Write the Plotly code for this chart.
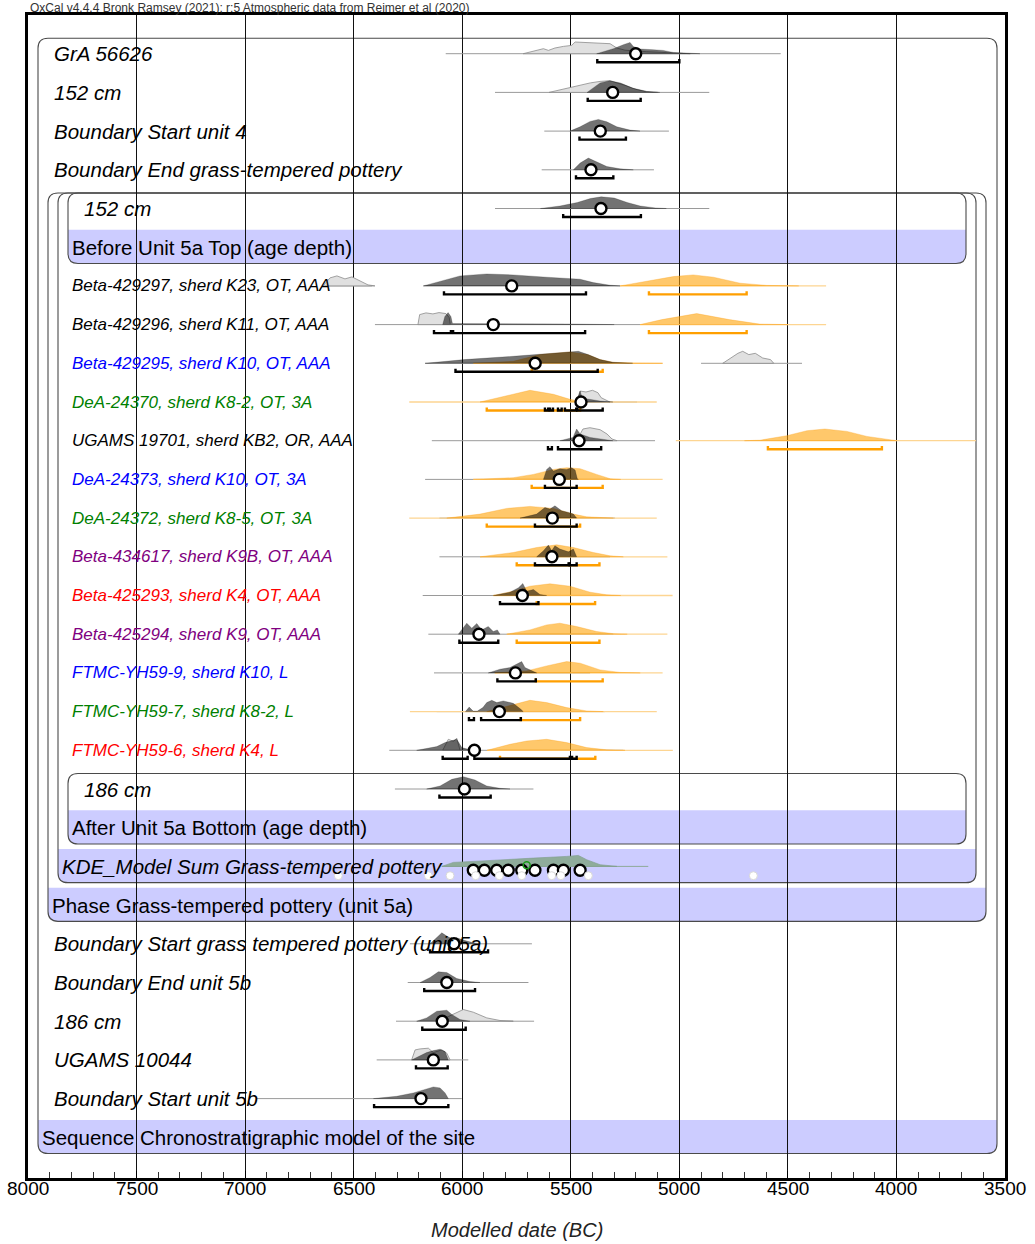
import plotly.graph_objects as go

# ---------------------------------------------------------------- data
labels = [
    "GrA 56626", "152 cm", "Boundary Start unit 4", "Boundary End grass-tempered pottery",
    "152 cm", "Before Unit 5a Top (age depth)",
    "Beta-429297, sherd K23, OT, AAA", "Beta-429296, sherd K11, OT, AAA",
    "Beta-429295, sherd K10, OT, AAA", "DeA-24370, sherd K8-2, OT, 3A",
    "UGAMS 19701, sherd KB2, OR, AAA", "DeA-24373, sherd K10, OT, 3A",
    "DeA-24372, sherd K8-5, OT, 3A", "Beta-434617, sherd K9B, OT, AAA",
    "Beta-425293, sherd K4, OT, AAA", "Beta-425294, sherd K9, OT, AAA",
    "FTMC-YH59-9, sherd K10, L", "FTMC-YH59-7, sherd K8-2, L", "FTMC-YH59-6, sherd K4, L",
    "186 cm", "After Unit 5a Bottom (age depth)", "KDE_Model Sum Grass-tempered pottery",
    "Phase Grass-tempered pottery (unit 5a)", "Boundary Start grass tempered pottery (unit 5a)",
    "Boundary End unit 5b", "186 cm", "UGAMS 10044", "Boundary Start unit 5b",
    "Sequence Chronostratigraphic model of the site",
]
label_colors = ["black"] * 8 + ["blue", "green", "black", "blue", "green", "purple", "red",
                                "purple", "blue", "green", "red"] + ["black"] * 10

x_ticks = [8000, 7500, 7000, 6500, 6000, 5500, 5000, 4500, 4000, 3500]

# thin calibration baselines (from, to) in BC
gray_ranges = {
    1: [(6076, 4533)], 2: [(5849, 4862)], 3: [(5622, 5048)], 4: [(5634, 5117)],
    5: [(5849, 4862)], 7: [(6641, 6415), (6179, 5273)], 8: [(6402, 5181)],
    9: [(6171, 5215), (4900, 4435)], 10: [(5473, 5195)], 11: [(6140, 5112)],
    12: [(6171, 5319)], 13: [(6105, 5296)], 14: [(6105, 5319)], 15: [(6182, 5319)],
    16: [(6156, 5304)], 17: [(6130, 5411)], 18: [(6118, 5342)], 19: [(6336, 5258)],
    20: [(6310, 5672)], 24: [(6241, 5679)], 25: [(6251, 5695)], 26: [(6305, 5669)],
    27: [(6394, 5972)], 28: [(6947, 6002)],
}
orange_ranges = {
    7: [(5273, 4324)], 8: [(5181, 4324)], 9: [(5949, 5077)], 10: [(6244, 5104)],
    11: [(5016, 3634)], 12: [(5949, 5077)], 13: [(6244, 5104)], 14: [(5918, 5055)],
    15: [(5857, 5031)], 16: [(5795, 5055)], 17: [(5850, 5077)], 18: [(6241, 5104)],
    19: [(5886, 5030)],
}

# distributions: (year BC, relative height)
light_dists = {
    1: [(5719, 0), (5626, 5), (5603, 3.3), (5573, 5.7), (5534, 7.3), (5496, 8.3), (5480, 11.7),
        (5365, 10.7), (5319, 10), (5288, 5.7), (5250, 3.5), (5150, 2), (5050, 1), (4950, 0)],
    2: [(5600, 0), (5530, 3.5), (5470, 6.7), (5410, 9.5), (5365, 11), (5320, 11.7), (5250, 7),
        (5200, 3), (5150, 0.8), (5100, 0)],
    7: [(6641, 0), (6609, 8), (6577, 10), (6540, 7), (6508, 9), (6471, 5), (6434, 1), (6402, 0)],
    8: [(6204, 0), (6196, 10), (6167, 11.7), (6135, 10.7), (6107, 12), (6075, 11), (6060, 7),
        (6055, 0)],
    9: [(4800, 0), (4730, 10), (4708, 12), (4680, 8.7), (4650, 10), (4616, 5.3), (4580, 3.7),
        (4565, 0)],
    10: [(5473, 0), (5457, 11), (5430, 10), (5400, 11.7), (5375, 9.3), (5360, 4.3), (5320, 0)],
    11: [(5473, 0), (5444, 11.7), (5412, 13), (5365, 11), (5333, 6.7), (5310, 1.7), (5287, 0)],
    19: [(6090, 0), (6064, 11), (6041, 9), (6025, 12), (6010, 0)],
    26: [(6110, 0), (6041, 6.7), (5995, 11.7), (5949, 9), (5887, 3.3), (5826, 0.7), (5765, 0)],
    27: [(6233, 0), (6217, 10), (6194, 11), (6156, 11.7), (6133, 7.3), (6094, 10), (6071, 6.7),
         (6056, 0)],
}
dark_dists = {
    1: [(5381, 0), (5304, 5), (5258, 9), (5227, 11.3), (5212, 7.3), (5181, 4.7), (5120, 4),
        (5074, 3.3), (5028, 1.3), (4966, 0.5), (4905, 0)],
    2: [(5425, 0), (5395, 5), (5365, 9.5), (5320, 11.7), (5270, 9.3), (5215, 4.3), (5150, 1),
        (5090, 0)],
    3: [(5504, 0), (5457, 4.3), (5411, 9.7), (5373, 11.7), (5334, 9.3), (5288, 4.3), (5227, 1),
        (5181, 0)],
    4: [(5488, 0), (5457, 6.7), (5419, 11.7), (5381, 8.3), (5334, 3.3), (5273, 1), (5212, 0)],
    5: [(5640, 0), (5550, 2.5), (5470, 6), (5410, 10), (5360, 11.7), (5300, 10.5), (5240, 6),
        (5180, 2.5), (5110, 0.6), (5060, 0)],
    7: [(6179, 0), (6102, 4.3), (6010, 10), (5887, 12), (5765, 11), (5611, 8.7), (5457, 6.7),
        (5396, 3.3), (5319, 0.7), (5273, 0)],
    8: [(6090, 0), (6080, 8), (6065, 12), (6052, 8), (6045, 1), (5800, 1), (5500, 0.6), (5300, 0)],
    9: [(6171, 0), (5990, 3.7), (5765, 7), (5580, 9.7), (5465, 12), (5420, 8.7), (5365, 3.7),
        (5306, 1), (5215, 0)],
    10: [(5473, 0), (5457, 11), (5450, 6), (5430, 3.3), (5365, 1), (5306, 0)],
    11: [(5550, 0), (5490, 3.3), (5473, 11.7), (5457, 6.7), (5411, 3.3), (5365, 1.7), (5306, 0)],
    12: [(5626, 0), (5611, 10), (5596, 12.7), (5580, 8.3), (5550, 10.7), (5519, 10), (5496, 11.7),
         (5480, 9.3), (5470, 0.7), (5465, 0)],
    13: [(5734, 0), (5657, 4), (5619, 10.7), (5596, 9), (5573, 12.3), (5542, 7.3), (5511, 5.7),
         (5488, 4), (5473, 0)],
    14: [(5657, 0), (5626, 6), (5603, 11.7), (5588, 6), (5573, 11), (5550, 7.7), (5511, 5),
         (5488, 7.7), (5473, 0)],
    15: [(5857, 0), (5780, 3.3), (5741, 7.7), (5721, 12), (5703, 4.3), (5672, 6), (5642, 1),
         (5611, 0)],
    16: [(6018, 0), (5979, 11), (5956, 6), (5933, 10.7), (5910, 4.3), (5880, 7.7), (5857, 2.7),
         (5838, 4.3), (5826, 0)],
    17: [(5880, 0), (5826, 3.7), (5780, 5.3), (5749, 8.7), (5726, 11.3), (5711, 5.3), (5672, 2),
         (5657, 0)],
    18: [(5985, 0), (5968, 4.5), (5950, 0.5), (5930, 0.5), (5905, 4), (5887, 9), (5864, 11.3),
         (5841, 9), (5811, 10.7), (5765, 8.3), (5730, 2.3), (5719, 0)],
    19: [(6210, 0), (6164, 1.7), (6117, 3.7), (6079, 7.7), (6048, 9.3), (6025, 11), (6002, 2.7),
         (5964, 0.5), (5940, 0)],
    20: [(6164, 0), (6102, 3), (6048, 9.7), (5995, 12.3), (5941, 9), (5887, 3), (5826, 0.7),
         (5780, 0)],
    24: [(6148, 0), (6117, 6), (6094, 11), (6071, 7.7), (6048, 5), (6025, 6), (5995, 3.7),
         (5949, 1), (5918, 0)],
    25: [(6194, 0), (6148, 5), (6110, 10.7), (6071, 10), (6025, 4), (5964, 1), (5918, 0)],
    26: [(6210, 0), (6164, 3.3), (6117, 10), (6071, 11), (6048, 6.7), (6010, 1.7), (5964, 0)],
    27: [(6233, 0), (6164, 7.3), (6133, 9.3), (6102, 10.7), (6079, 8.3), (6064, 0)],
    28: [(6409, 0), (6302, 2.3), (6225, 5.7), (6164, 9.7), (6133, 11.7), (6102, 10.7),
         (6079, 5.7), (6064, 0)],
}
orange_dists = {
    7: [(5273, 0), (5150, 4.3), (5028, 9.3), (4936, 11), (4843, 8.7), (4720, 2.7), (4597, 0.5),
        (4450, 0)],
    8: [(5181, 0), (5080, 5), (4920, 11), (4770, 5), (4630, 0.5), (4500, 0)],
    9: [(5949, 0), (5765, 2), (5642, 8.7), (5504, 11.3), (5420, 8.5), (5365, 3.7), (5306, 1),
        (5215, 0.3), (5077, 0)],
    10: [(5918, 0), (5795, 6), (5688, 11.7), (5580, 7.7), (5504, 2.7), (5457, 0.7), (5420, 0)],
    11: [(4700, 0), (4629, 0.5), (4505, 5), (4412, 10), (4330, 11.7), (4228, 9.3), (4136, 4.3),
         (4044, 1), (3998, 0)],
    12: [(5949, 0), (5765, 1.7), (5672, 5), (5580, 10), (5519, 11.7), (5457, 10.7), (5381, 5),
         (5319, 0.7), (5270, 0)],
    13: [(6071, 0), (5918, 4), (5795, 9.7), (5688, 11.7), (5580, 9.7), (5488, 4), (5427, 1.3),
         (5304, 0)],
    14: [(5918, 0), (5765, 4.3), (5657, 9.3), (5565, 12), (5488, 9.3), (5396, 4.3), (5319, 1),
         (5258, 0)],
    15: [(5857, 0), (5765, 4.3), (5688, 9.3), (5596, 11.7), (5504, 9.3), (5411, 3.3),
         (5334, 0.7), (5270, 0)],
    16: [(5795, 0), (5688, 4.3), (5611, 9.3), (5550, 11), (5473, 7.7), (5381, 2.7), (5304, 0.5),
         (5240, 0)],
    17: [(5850, 0), (5703, 2), (5611, 7), (5519, 11.3), (5457, 9.7), (5365, 3), (5273, 0.5),
         (5180, 0)],
    18: [(5887, 0), (5765, 7.3), (5688, 11.3), (5611, 9), (5519, 4), (5427, 0.7), (5350, 0)],
    19: [(5886, 0), (5780, 6), (5703, 9.3), (5611, 11), (5519, 7.7), (5427, 2.7), (5334, 0.5),
         (5250, 0)],
}
kde_sum = [(6094, 0), (6041, 4), (5949, 5), (5826, 6.7), (5672, 8.3), (5519, 10), (5465, 11),
           (5427, 6.7), (5365, 1.7), (5288, 0)]
kde_range = (6094, 5143)
kde_green_median = 5703
kde_medians = [5949, 5898, 5841, 5788, 5726, 5665, 5580, 5534, 5457]
kde_unmodelled = [6571, 6156, 6056, 5938, 5829, 5726, 5588, 5546, 5419, 4659]

medians = {1: 5201, 2: 5307, 3: 5364, 4: 5407, 5: 5361, 7: 5772, 8: 5857, 9: 5664, 10: 5453,
           11: 5462, 12: 5553, 13: 5585, 14: 5587, 15: 5723, 16: 5923, 17: 5755, 18: 5829,
           19: 5944, 20: 5990, 24: 6038, 25: 6071, 26: 6092, 27: 6133, 28: 6190}
hpd_black = {
    1: [(5378, 5000)], 2: [(5422, 5178)], 3: [(5460, 5246)], 4: [(5476, 5304)], 5: [(5535, 5177)],
    7: [(6084, 5430)], 8: [(6130, 6052), (6042, 5434)], 9: [(6031, 5376)],
    10: [(5619, 5604), (5596, 5582), (5559, 5542), (5527, 5475), (5470, 5353)],
    11: [(5605, 5587), (5559, 5360)], 12: [(5619, 5473)], 13: [(5665, 5473)],
    14: [(5665, 5510), (5505, 5473)], 15: [(5826, 5649)], 16: [(6013, 5834)], 17: [(5838, 5661)],
    18: [(5969, 5946), (5913, 5730)], 19: [(6090, 5975), (5944, 5504), (5494, 5473)],
    20: [(6105, 5869)], 24: [(6148, 5881)], 25: [(6175, 5941)], 26: [(6184, 5984)],
    27: [(6213, 6067)], 28: [(6406, 6064)],
}
hpd_orange = {
    7: [(5140, 4690)], 8: [(5140, 4690)], 9: [(5680, 5353)], 10: [(5887, 5457)],
    11: [(4592, 4067)], 12: [(5680, 5353)], 13: [(5887, 5457)], 14: [(5749, 5368)],
    15: [(5657, 5388)], 16: [(5749, 5368)], 17: [(5661, 5353)], 18: [(5730, 5457)],
    19: [(5826, 5387)],
}

# ---------------------------------------------------------------- layout helpers
W, H = 1035, 1244
PL, PR, PT, PB = 28, 1005, 15, 1178          # plot area on screen
ML, MT, MR, MB = PL, PT, W - PR, H - PB
PW, PH = PR - PL, PB - PT
ROW_PX = 38.7
N_ROWS = PH / ROW_PX
HS = 1.0 / ROW_PX          # height unit -> rows
BR_OFF = 0.22              # bracket offset below baseline (rows)
BR_TICK = 0.08


def px(xpix):
    return (xpix - PL) / PW


def py(ypix):
    return 1 - (ypix - PT) / PH


fig = go.Figure()


def seg_trace(ranges_by_row, color, width, offset=0.0, ticks=False):
    xs, ys = [], []
    for row, segs in ranges_by_row.items():
        y = row + offset
        for a, b in segs:
            if ticks:
                xs += [a, a, b, b, None]
                ys += [y - BR_TICK, y, y, y - BR_TICK, None]
            else:
                xs += [a, b, None]
                ys += [y, y, None]
    fig.add_trace(go.Scatter(x=xs, y=ys, mode="lines", line=dict(color=color, width=width),
                             hoverinfo="skip", showlegend=False))


def dist_trace(dists, fill, line, lw):
    xs, ys = [], []
    for row, pts in dists.items():
        xs += [p[0] for p in pts] + [pts[0][0], None]
        ys += [row - p[1] * HS for p in pts] + [row, None]
    fig.add_trace(go.Scatter(x=xs, y=ys, mode="lines", fill="toself", fillcolor=fill,
                             line=dict(color=line, width=lw), hoverinfo="skip",
                             showlegend=False))


seg_trace(gray_ranges, "#9a9a9a", 1)
seg_trace(orange_ranges, "#fdd592", 1.3)
dist_trace(orange_dists, "rgba(255,160,0,0.58)", "rgba(250,155,10,0.5)", 0.6)
dist_trace(light_dists, "#e0e0e0", "#8c8c8c", 0.8)
dist_trace(dark_dists, "rgba(0,0,0,0.55)", "rgba(0,0,0,0.4)", 0.5)

# KDE row
fig.add_trace(go.Scatter(x=[kde_range[0], kde_range[1]], y=[22, 22], mode="lines",
                         line=dict(color="#8fa99a", width=1), hoverinfo="skip", showlegend=False))
dist_trace({22: kde_sum}, "#8fac9b", "#7d9c8a", 0.6)

seg_trace(hpd_orange, "#ff9f00", 2.4, BR_OFF, True)
seg_trace(hpd_black, "black", 2.4, BR_OFF, True)

fig.add_trace(go.Scatter(x=kde_medians, y=[22.1] * len(kde_medians), mode="markers",
                         marker=dict(size=11, color="white", line=dict(color="black", width=2.3)),
                         hoverinfo="skip", showlegend=False))
fig.add_trace(go.Scatter(x=kde_unmodelled, y=[22.24] * len(kde_unmodelled), mode="markers",
                         marker=dict(size=8, color="white", line=dict(color="#d8d8d8", width=1)),
                         hoverinfo="skip", showlegend=False))
fig.add_trace(go.Scatter(x=[kde_green_median], y=[21.97], mode="markers",
                         marker=dict(size=7, color="rgba(0,0,0,0)",
                                     line=dict(color="#1a9a1a", width=1.5)),
                         hoverinfo="skip", showlegend=False))

fig.add_trace(go.Scatter(x=list(medians.values()), y=list(medians.keys()), mode="markers",
                         marker=dict(size=11, color="white", line=dict(color="black", width=2.4)),
                         hoverinfo="skip", showlegend=False))

# ---------------------------------------------------------------- boxes & bands
R = 10
rx, ry = R / PW, R / ROW_PX
LAV = "rgb(204,204,255)"
boxes = [  # left px, right px, top row, band row
    (38, 997, 0.6, 29),
    (48, 986, 4.6, 23),
    (58, 976, 4.6, 22),
    (68, 966, 4.6, 6),
    (68, 966, 19.6, 21),
]
shapes = []
for xl, xr, top, band in boxes:
    x0, x1 = px(xl), px(xr)
    b0, b1 = band - 0.45, band + 0.42
    band_path = (f"M {x0},{b0} L {x1},{b0} L {x1},{b1-ry} Q {x1},{b1} {x1-rx},{b1} "
                 f"L {x0+rx},{b1} Q {x0},{b1} {x0},{b1-ry} Z")
    shapes.append(dict(type="path", path=band_path, xref="paper", yref="y", fillcolor=LAV,
                       line=dict(width=0), layer="below"))
    y0, y1 = top, b1
    box_path = (f"M {x0+rx},{y0} L {x1-rx},{y0} Q {x1},{y0} {x1},{y0+ry} L {x1},{y1-ry} "
                f"Q {x1},{y1} {x1-rx},{y1} L {x0+rx},{y1} Q {x0},{y1} {x0},{y1-ry} "
                f"L {x0},{y0+ry} Q {x0},{y0} {x0+rx},{y0} Z")
    shapes.append(dict(type="path", path=box_path, xref="paper", yref="y",
                       line=dict(color="#4a4a4a", width=1.1), layer="below"))

# ---------------------------------------------------------------- labels
FONT = "Liberation Sans, Arial, sans-serif"
label_x = {1: 55, 2: 55, 3: 55, 4: 55, 5: 85, 6: 73, 20: 85, 21: 73, 22: 63, 23: 53, 29: 43}
plain_rows = {6, 21, 23, 29}
annotations = []
for i, (txt, col) in enumerate(zip(labels, label_colors), start=1):
    xpix = label_x.get(i, 73 if 7 <= i <= 19 else 55) - 3
    size = 17 if 7 <= i <= 19 else 20.5
    t = txt if i in plain_rows else f"<i>{txt}</i>"
    annotations.append(dict(x=px(xpix), y=i, xref="paper", yref="y", text=t, showarrow=False,
                            xanchor="left", yanchor="middle",
                            font=dict(family=FONT, size=size, color=col)))

# tick labels placed just under the axis line
for v in x_ticks:
    annotations.append(dict(x=v, y=py(1188), xref="x", yref="paper", text=str(v),
                            showarrow=False, xanchor="center", yanchor="middle",
                            font=dict(family=FONT, size=19, color="black")))

annotations.append(dict(x=px(28), y=py(8), xref="paper", yref="paper",
                        text="OxCal v4.4.4 Bronk Ramsey (2021); r:5 Atmospheric data from Reimer et al (2020)",
                        showarrow=False, xanchor="left", yanchor="middle",
                        font=dict(family=FONT, size=12, color="#333333")))
annotations.append(dict(x=0.5, y=py(1230), xref="paper", yref="paper",
                        text="<i>Modelled date (BC)</i>", showarrow=False,
                        xanchor="center", yanchor="middle",
                        font=dict(family=FONT, size=20, color="#222222")))

fig.update_layout(
    width=W, height=H, margin=dict(l=ML, r=MR, t=MT, b=MB, autoexpand=False),
    paper_bgcolor="white", plot_bgcolor="white",
    shapes=shapes, annotations=annotations, showlegend=False,
    xaxis=dict(range=[8000, 3500], tickmode="array", tickvals=x_ticks,
               showticklabels=False, automargin=False,
               showgrid=True, gridcolor="#111111", gridwidth=1.2, zeroline=False,
               showline=True, linecolor="black", linewidth=2.5, mirror=True,
               ticks="inside", ticklen=7, tickcolor="black", tickwidth=1,
               minor=dict(tick0=3500, dtick=100, ticks="inside", ticklen=6,
                          tickcolor="#333333", tickwidth=1, showgrid=False)),
    yaxis=dict(range=[N_ROWS, 0], showgrid=False, zeroline=False, showticklabels=False,
               automargin=False, ticks="", showline=True, linecolor="black", linewidth=2.5,
               mirror=True),
)

# the page body gets no margin so the figure sits at the window's top-left corner
fig.write_html("out.html", config={"displayModeBar": False},
               post_script="document.body.style.margin='0';")
